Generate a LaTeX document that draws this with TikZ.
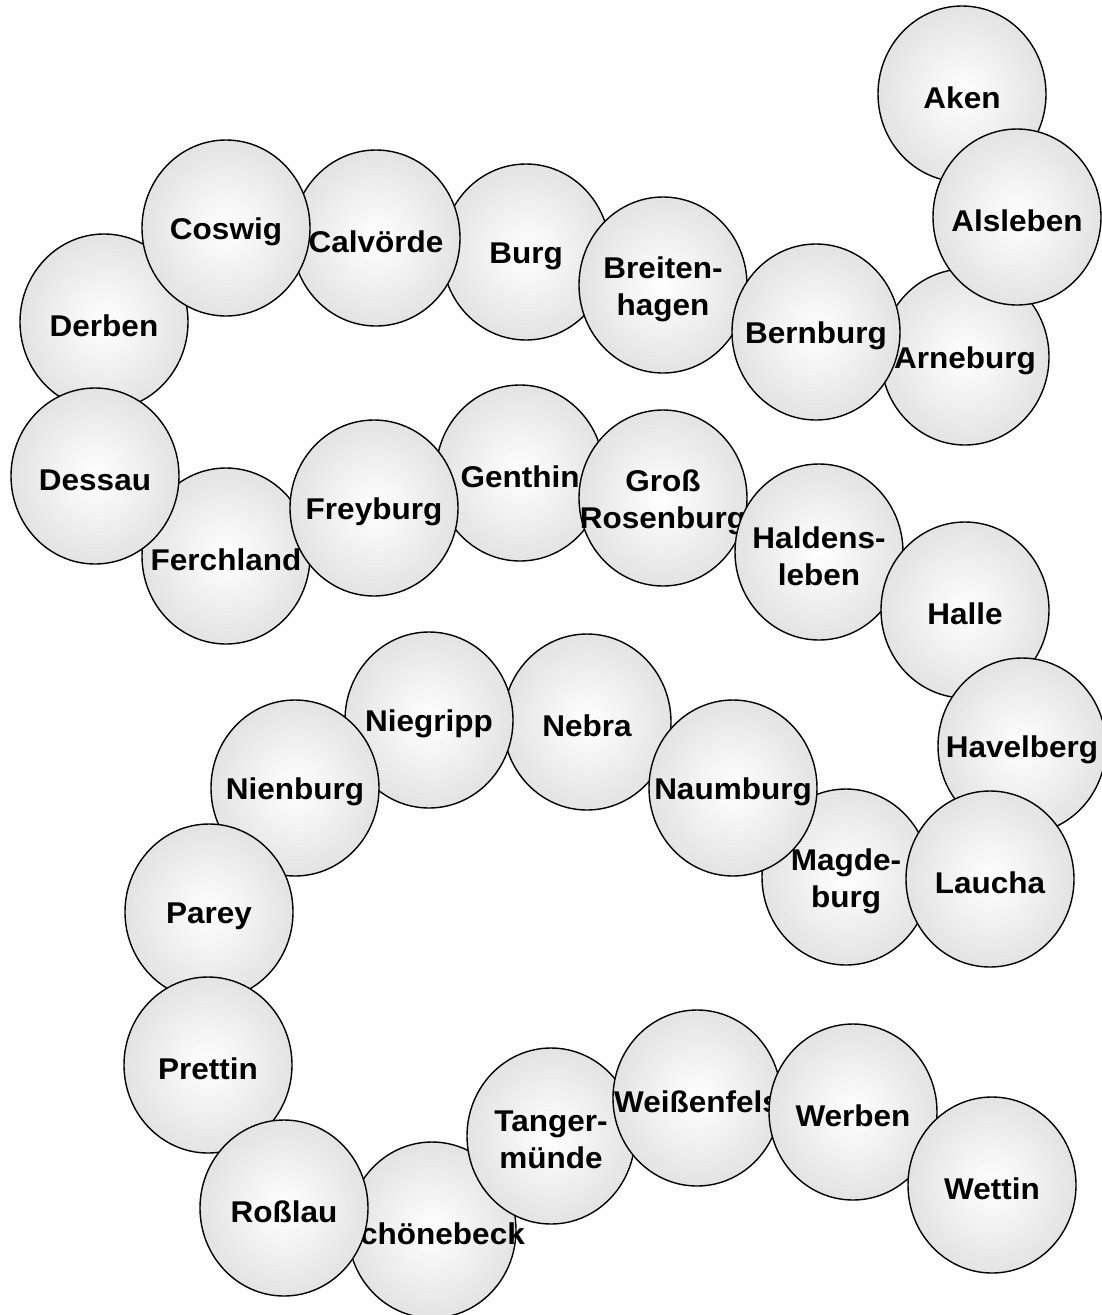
\documentclass[tikz,border=0pt]{standalone}
\usepackage{fontspec}
\setmainfont{Liberation Sans}[FakeStretch=1.05]
\usetikzlibrary{shapes.geometric}
\tikzset{
  townshape/.style={ellipse, draw=black, line width=1.4pt, minimum width=168pt,
    minimum height=176pt, inner sep=0pt, inner color=white, outer color=black!11},
  towntext/.style={font=\bfseries\fontsize{30}{37}\selectfont, align=center,
    inner sep=0pt, text=black}
}
\newcommand\town[3]{\node[townshape] (#1) at (#2) {};
  \node[towntext] (#1t) at ([yshift=-4pt]#1.center) {#3};}
\begin{document}
\begin{tikzpicture}[x=1pt,y=-1pt]
\useasboundingbox (0,0) rectangle (1102,1315);
\town{aken}{962,94}{Aken}
\town{arneburg}{965,357}{Arneburg}
\town{alsleben}{1017,217}{Alsleben}
\town{burg}{526,252}{Burg}
\town{breitenhagen}{663,285}{Breiten-\\hagen}
\town{bernburg}{816,332}{Bernburg}
\town{calvoerde}{376,238}{Calvörde}
\town{derben}{104,322}{Derben}
\town{coswig}{226,228}{Coswig}
\town{ferchland}{226,556}{Ferchland}
\town{dessau}{95,476}{Dessau}
\town{genthin}{520,473}{Genthin}
\town{freyburg}{374,508}{Freyburg}
\town{grossrosenburg}{663,498}{Groß\\Rosenburg}
\town{haldensleben}{819,552}{Haldens-\\leben}
\town{halle}{965,610}{Halle}
\town{havelberg}{1022,746}{Havelberg}
\town{magdeburg}{846,877}{Magde-\\burg}
\town{laucha}{990,879}{Laucha}
\town{nebra}{587,722}{Nebra}
\town{naumburg}{733,788}{Naumburg}
\town{niegripp}{429,720}{Niegripp}
\town{nienburg}{295,788}{Nienburg}
\town{parey}{209,912}{Parey}
\town{prettin}{208,1065}{Prettin}
\town{schoenebeck}{432,1230}{Schönebeck}
\town{rosslau}{284,1208}{Roßlau}
\town{tangermuende}{551,1136}{Tanger-\\münde}
\town{weissenfels}{697,1098}{Weißenfels}
\town{werben}{853,1112}{Werben}
\town{wettin}{992,1185}{Wettin}
\end{tikzpicture}
\end{document}
